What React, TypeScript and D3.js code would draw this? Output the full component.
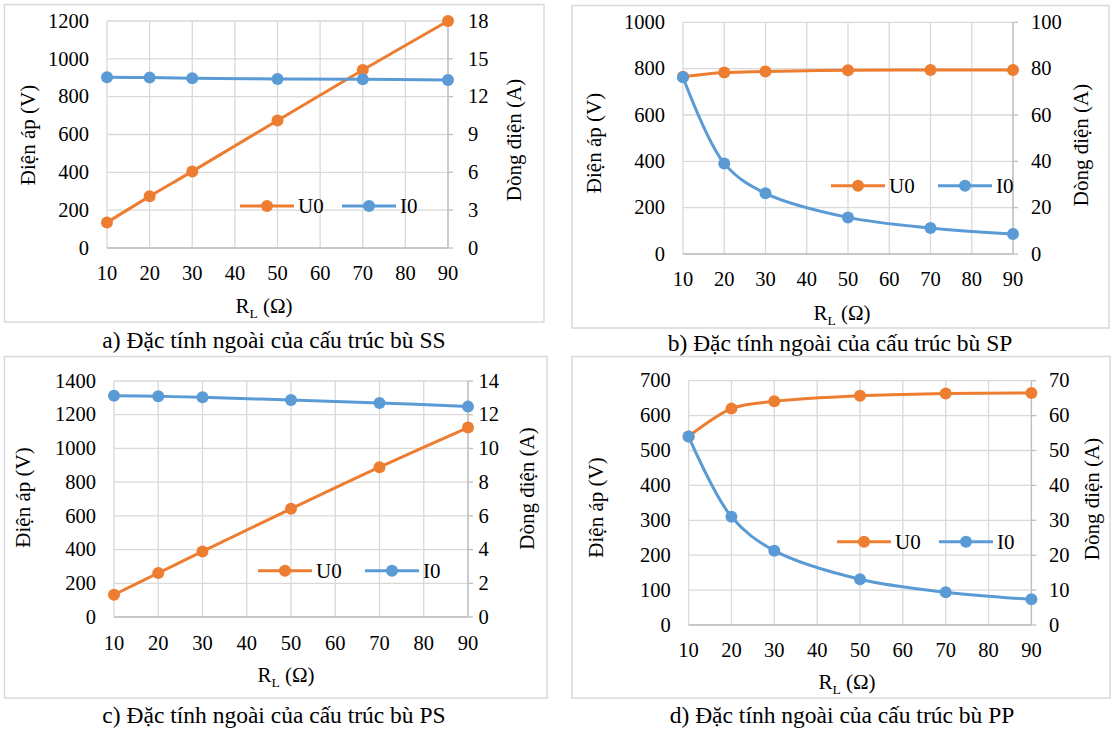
import React from "react";
import * as d3 from "d3";

// ---------- Data ----------
const RL = [10, 20, 30, 50, 70, 90];

const ssU0 = [135, 273, 405, 674, 941, 1200];
const ssI0 = [13.54, 13.51, 13.46, 13.4, 13.38, 13.33];

const spU0 = [765, 783, 788, 793, 794, 794];
const spI0 = [76.3, 39.1, 26.2, 15.8, 11.2, 8.6];

const psU0 = [132, 261, 389, 642, 889, 1124];
const psI0 = [13.13, 13.09, 13.03, 12.87, 12.7, 12.48];

const ppU0 = [540, 620, 641, 657, 663, 665];
const ppI0 = [54.0, 31.0, 21.3, 13.1, 9.4, 7.35];

const xTicks = [10, 20, 30, 40, 50, 60, 70, 80, 90];
const ssLeftTicks = [0, 200, 400, 600, 800, 1000, 1200];
const ssRightTicks = [0, 3, 6, 9, 12, 15, 18];
const spLeftTicks = [0, 200, 400, 600, 800, 1000];
const spRightTicks = [0, 20, 40, 60, 80, 100];
const psLeftTicks = [0, 200, 400, 600, 800, 1000, 1200, 1400];
const psRightTicks = [0, 2, 4, 6, 8, 10, 12, 14];
const ppLeftTicks = [0, 100, 200, 300, 400, 500, 600, 700];
const ppRightTicks = [0, 10, 20, 30, 40, 50, 60, 70];

const seriesNames = ["U0", "I0"];
const captions = [
  "a) Đặc tính ngoài của cấu trúc bù SS",
  "b) Đặc tính ngoài của cấu trúc bù SP",
  "c) Đặc tính ngoài của cấu trúc bù PS",
  "d) Đặc tính ngoài của cấu trúc bù PP",
];
const leftTitle = "Điện áp (V)";
const rightTitle = "Dòng điện (A)";

// ---------- Styles ----------
const ORANGE = "#ED7D31";
const BLUE = "#5B9BD5";
const GRID = "#D9D9D9";
const AXIS = "#BFBFBF";
const FONT = "Liberation Serif";

type Layout = {
  frame: [number, number, number, number];
  plot: [number, number, number, number];
  leftLabelX: number;
  rightLabelX: number;
  leftTitle: [number, number];
  rightTitle: [number, number];
  xTickY: number;
  xTitle: [number, number];
  caption: [number, number];
  legend: [number, number, number];
};

const panels = [
  {
    u0: ssU0, i0: ssI0, lt: ssLeftTicks, rt: ssRightTicks, cap: captions[0],
    layout: {
      frame: [4.5, 4.5, 544, 322], plot: [107, 21, 448, 248],
      leftLabelX: 89, rightLabelX: 468, leftTitle: [28, 135], rightTitle: [514, 140],
      xTickY: 273.5, xTitle: [264, 306], caption: [274, 340], legend: [206, 240, 342],
    } as Layout,
  },
  {
    u0: spU0, i0: spI0, lt: spLeftTicks, rt: spRightTicks, cap: captions[1],
    layout: {
      frame: [572, 5.5, 1109, 328], plot: [683, 22.3, 1013, 254],
      leftLabelX: 665, rightLabelX: 1031, leftTitle: [594, 143], rightTitle: [1081, 145],
      xTickY: 279, xTitle: [842, 313], caption: [840, 343], legend: [185.7, 831, 938],
    } as Layout,
  },
  {
    u0: psU0, i0: psI0, lt: psLeftTicks, rt: psRightTicks, cap: captions[2],
    layout: {
      frame: [4.5, 356.5, 547, 698], plot: [114, 381, 468, 617],
      leftLabelX: 96, rightLabelX: 478.6, leftTitle: [23, 497.5], rightTitle: [527, 488.5],
      xTickY: 643, xTitle: [286, 675], caption: [274, 715], legend: [570.7, 258, 365],
    } as Layout,
  },
  {
    u0: ppU0, i0: ppI0, lt: ppLeftTicks, rt: ppRightTicks, cap: captions[3],
    layout: {
      frame: [572, 356.5, 1110, 698], plot: [688.6, 380.7, 1031.4, 625],
      leftLabelX: 670.7, rightLabelX: 1049, leftTitle: [595.7, 507.5], rightTitle: [1092, 499],
      xTickY: 650, xTitle: [847, 682], caption: [842, 715], legend: [541.7, 837, 939],
    } as Layout,
  },
];

function Panel({ u0, i0, lt, rt, cap, layout }: any) {
  const L: Layout = layout;
  const [px0, py0, px1, py1] = L.plot;
  const x = d3.scaleLinear().domain([xTicks[0], xTicks[xTicks.length - 1]]).range([px0, px1]);
  const yL = d3.scaleLinear().domain([lt[0], lt[lt.length - 1]]).range([py1, py0]);
  const yR = d3.scaleLinear().domain([rt[0], rt[rt.length - 1]]).range([py1, py0]);

  const lineL = d3.line<number>().x((_, i) => x(RL[i])).y((d) => yL(d)).curve(d3.curveCatmullRom.alpha(0.5));
  const lineR = d3.line<number>().x((_, i) => x(RL[i])).y((d) => yR(d)).curve(d3.curveCatmullRom.alpha(0.5));

  const [fx0, fy0, fx1, fy1] = L.frame;
  const [ly, lu, li] = L.legend;
  const LL = 54;
  const txt = { fontFamily: FONT, fontSize: 20.5, fill: "#000" } as React.CSSProperties;
  const ttl = { ...txt, fontSize: 21 };

  return (
    <g>
      <rect x={fx0} y={fy0} width={fx1 - fx0} height={fy1 - fy0} fill="#fff" stroke={GRID} strokeWidth={1.5} />
      {lt.map((t: number) => (
        <line key={"h" + t} x1={px0} x2={px1} y1={yL(t)} y2={yL(t)} stroke={GRID} strokeWidth={1.3} />
      ))}
      {xTicks.map((t) => (
        <line key={"v" + t} x1={x(t)} x2={x(t)} y1={py0} y2={py1} stroke={GRID} strokeWidth={1.3} />
      ))}
      <line x1={px0} x2={px1} y1={py1} y2={py1} stroke={AXIS} strokeWidth={1.3} />
      <line x1={px1} x2={px1} y1={py0} y2={py1} stroke={AXIS} strokeWidth={1.3} />
      {rt.map((t: number) => (
        <line key={"rt" + t} x1={px1} x2={px1 + 5} y1={yR(t)} y2={yR(t)} stroke={AXIS} strokeWidth={1.3} />
      ))}
      {lt.map((t: number) => (
        <text key={"lt" + t} style={txt} x={L.leftLabelX} y={yL(t)} dy="0.33em" textAnchor="end">{t}</text>
      ))}
      {rt.map((t: number) => (
        <text key={"rtl" + t} style={txt} x={L.rightLabelX} y={yR(t)} dy="0.33em" textAnchor="start">{t}</text>
      ))}
      {xTicks.map((t) => (
        <text key={"xt" + t} style={txt} x={x(t)} y={L.xTickY} dy="0.33em" textAnchor="middle">{t}</text>
      ))}
      <text style={ttl} x={L.leftTitle[0]} y={L.leftTitle[1]} dy="0.33em" textAnchor="middle"
        transform={`rotate(-90 ${L.leftTitle[0]} ${L.leftTitle[1]})`}>{leftTitle}</text>
      <text style={ttl} x={L.rightTitle[0]} y={L.rightTitle[1]} dy="0.33em" textAnchor="middle"
        transform={`rotate(-90 ${L.rightTitle[0]} ${L.rightTitle[1]})`}>{rightTitle}</text>
      <text style={ttl} x={L.xTitle[0]} y={L.xTitle[1]} dy="0.33em" textAnchor="middle">
        R<tspan style={{ fontSize: 13.5 }} dy="5">L</tspan><tspan dy="-5"> (Ω)</tspan>
      </text>
      <line x1={lu} x2={lu + LL} y1={ly} y2={ly} stroke={ORANGE} strokeWidth={3} />
      <circle cx={lu + LL / 2} cy={ly} r={6} fill={ORANGE} />
      <text style={ttl} x={lu + LL + 4} y={ly} dy="0.33em">{seriesNames[0]}</text>
      <line x1={li} x2={li + LL} y1={ly} y2={ly} stroke={BLUE} strokeWidth={3} />
      <circle cx={li + LL / 2} cy={ly} r={6} fill={BLUE} />
      <text style={ttl} x={li + LL + 4} y={ly} dy="0.33em">{seriesNames[1]}</text>
      <path d={lineL(u0) || ""} fill="none" stroke={ORANGE} strokeWidth={3} strokeLinejoin="round" />
      {u0.map((v: number, i: number) => (
        <circle key={"u" + i} cx={x(RL[i])} cy={yL(v)} r={6} fill={ORANGE} />
      ))}
      <path d={lineR(i0) || ""} fill="none" stroke={BLUE} strokeWidth={3} strokeLinejoin="round" />
      {i0.map((v: number, i: number) => (
        <circle key={"i" + i} cx={x(RL[i])} cy={yR(v)} r={6} fill={BLUE} />
      ))}
      <text style={{ ...txt, fontSize: 23.5 }} x={L.caption[0]} y={L.caption[1]} dy="0.33em" textAnchor="middle">{cap}</text>
    </g>
  );
}

export default function App() {
  return (
    <svg width={1119} height={729} style={{ position: "absolute", left: 0, top: 0, background: "#fff" }}>
      <rect width={1119} height={729} fill="#fff" />
      {panels.map((p, k) => (
        <Panel key={k} {...p} />
      ))}
    </svg>
  );
}
